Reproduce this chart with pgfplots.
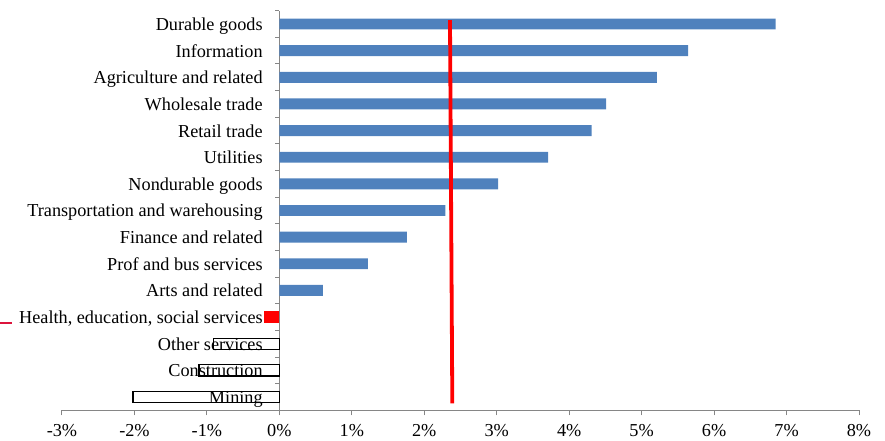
\documentclass[border=0pt]{standalone}
\usepackage{fontspec}
\setmainfont{Liberation Serif}
\usepackage{pgfplots}
\pgfplotsset{compat=1.18}
\definecolor{barblue}{HTML}{4F81BD}
\definecolor{axgray}{HTML}{868686}
\definecolor{dashred}{RGB}{220,20,60}
\begin{document}
\begin{tikzpicture}
\begin{axis}[
  scale only axis, width=797bp, height=399.6bp,
  xmin=-3, xmax=8, ymin=-0.5, ymax=14.5,
  axis x line=bottom, axis y line=middle,
  axis line style={-, draw=axgray, line width=1bp},
  hide obscured x ticks=false, hide obscured y ticks=false,
  clip=false,
  tick align=outside,
  xtick={-3,...,8},
  xticklabels={-3\%,-2\%,-1\%,0\%,1\%,2\%,3\%,4\%,5\%,6\%,7\%,8\%},
  major tick length=5bp,
  x tick style={draw=axgray, line width=1bp},
  ytick={0,...,14},
  yticklabels={Mining, Construction, Other services, {Health, education, social services}, Arts and related, Prof and bus services, Finance and related, Transportation and warehousing, Nondurable goods, Utilities, Retail trade, Wholesale trade, Agriculture and related, Information, Durable goods},
  y tick style={draw=none},
  minor ytick={-0.5,0.5,...,14.5},
  minor tick length=4bp,
  minor y tick style={draw=axgray, line width=1bp},
  tick label style={font=\fontsize{18.3}{22}\selectfont},
  yticklabel style={anchor=base east, inner sep=0pt, xshift=-11.5bp, yshift=-6.5bp},
  xticklabel style={anchor=north, inner sep=0pt, yshift=-9bp},
]
\addplot[xbar, bar width=0.41, bar shift=0pt, fill=barblue, draw=none]
  coordinates {(0.60,4) (1.22,5) (1.76,6) (2.29,7) (3.02,8) (3.71,9) (4.31,10) (4.51,11) (5.21,12) (5.64,13) (6.85,14)};
\addplot[xbar, bar width=0.42, bar shift=0pt, fill=red, draw=none]
  coordinates {(-0.21,3)};
\addplot[xbar, bar width=0.42, bar shift=0pt, fill=none, draw=black, line width=1.2bp]
  coordinates {(-2.02,0) (-1.11,1) (-0.91,2)};
\addplot[red, line width=3.8bp] coordinates {(2.355,14.15) (2.387,-0.24)};
\addplot[dashred, line width=1.5bp] coordinates {(-3.86,2.77) (-3.69,2.77)};
\coordinate (o) at (axis cs:-3,-0.5);
\end{axis}
\pgfresetboundingbox
\path (o) ++(-62bp,-30.7bp) rectangle ++(885bp,441bp);
\end{tikzpicture}
\end{document}
